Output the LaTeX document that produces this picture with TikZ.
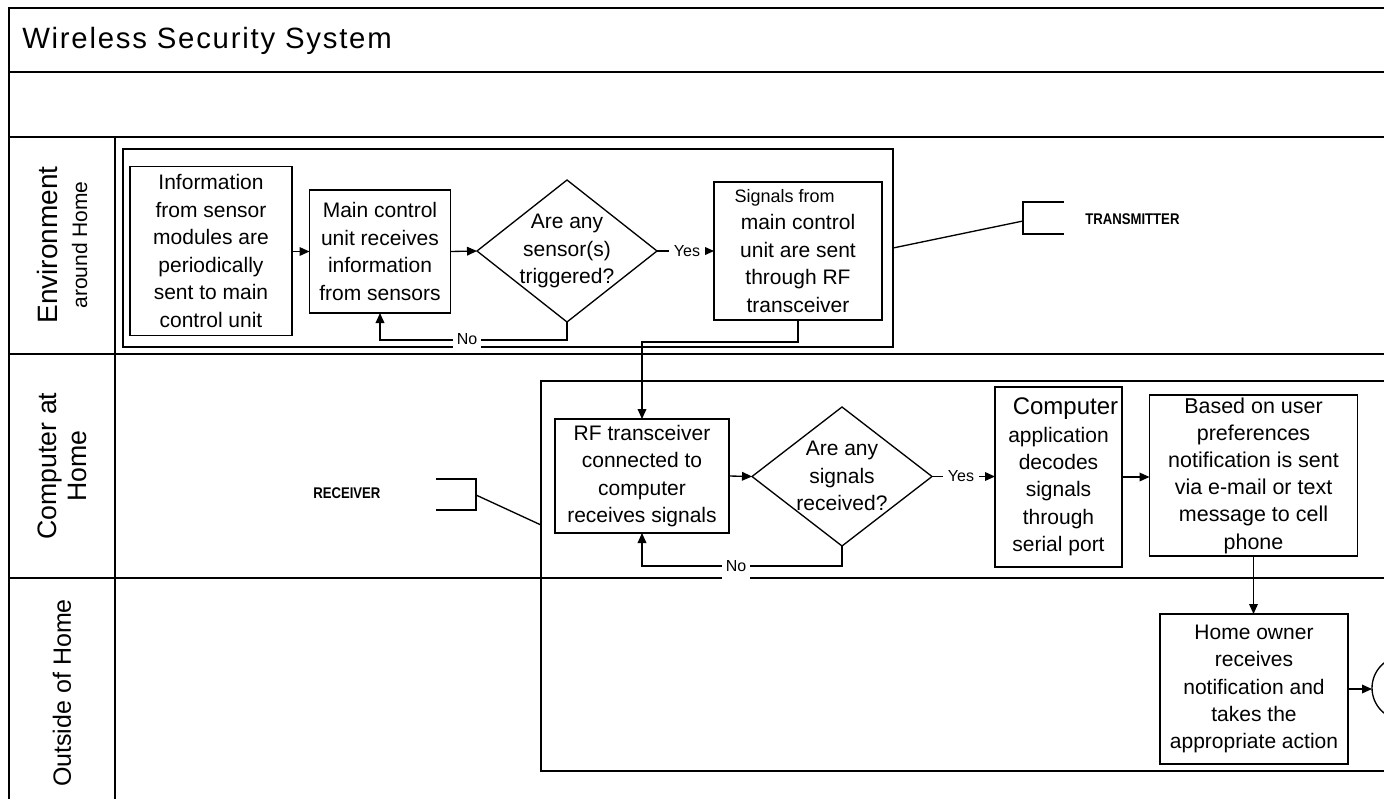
\documentclass[tikz,border=0pt]{standalone}
\usepackage{fontspec}
\setmainfont{Liberation Sans}
\newfontfamily\titlefamily[LetterSpace=6]{Liberation Sans}
\usetikzlibrary{arrows.meta,shapes.geometric}

\tikzset{
  rule/.style={line width=1.1pt},
  plain/.style={line width=1pt},
  procbox/.style 2 args={draw, rectangle, line width=1pt, inner sep=0pt, outer sep=0pt,
    align=center, minimum width=#1*0.75pt, minimum height=#2*0.75pt,
    font=\fontsize{15.75pt}{20.6pt}\selectfont},
  decision/.style 2 args={draw, diamond, line width=1pt, inner sep=0pt, outer sep=0pt,
    minimum width=#1*0.75pt, minimum height=#2*0.75pt},
  boxtext/.style={align=center, inner sep=0pt, font=\fontsize{15.75pt}{20.6pt}\selectfont},
  flow/.style={line width=1pt, -{Triangle[length=7.5pt,width=6.5pt]}},
  branch/.style={fill=white, inner ysep=1pt, inner xsep=4pt, font=\fontsize{12pt}{13pt}\selectfont},
  loopback/.style={fill=white, inner xsep=2.5pt, inner ysep=0pt, minimum height=20.25pt,
    font=\fontsize{12pt}{13pt}\selectfont},
  lanename/.style={rotate=90, align=center, inner sep=0pt},
  tag/.style={anchor=west, inner sep=0pt, font=\bfseries\fontsize{11.6pt}{12pt}\selectfont},
}

\begin{document}
\begin{tikzpicture}[x=0.75pt,y=-0.75pt]
\useasboundingbox (0,0) rectangle (1384,799);
\clip (0,0) rectangle (1384,799);
\fill[white] (0,0) rectangle (1384,799);

% pool frame, header rows and lanes
\draw[rule] (9,805) -- (9,8) -- (1400,8);
\draw[rule] (9,72) -- (1400,72);
\draw[rule] (9,137) -- (1400,137);
\draw[rule] (9,354) -- (1400,354);
\draw[rule] (9,578) -- (1400,578);
\draw[rule] (115,137) -- (115,805);

\node[anchor=base west, inner sep=0pt, font=\titlefamily\fontsize{22pt}{24pt}\selectfont]
  (title) at (22,49) {Wireless Security System};

\node[lanename, font=\fontsize{21pt}{22.5pt}\selectfont] (lane1) at (62,245)
  {Environment\\{\fontsize{15.75pt}{22.5pt}\selectfont around Home}};
\node[lanename, font=\fontsize{20pt}{22.5pt}\selectfont] (lane2) at (62,466)
  {Computer at\\Home};
\node[lanename, font=\fontsize{18.75pt}{22.5pt}\selectfont] (lane3) at (62,693)
  {Outside of Home};

% groups
\draw[plain] (123,149) rectangle (893,347);
\draw[plain] (541,381) rectangle (1400,771);

% transmitter annotation
\coordinate (g1e) at (893,248);
\coordinate (txb) at (1023,221);
\draw[plain] (1064,202) -- (1023,202) -- (1023,234) -- (1064,234);
\draw[plain] (g1e) -- (txb);
\node[tag] (txlbl) at (1085,219) {\scalebox{0.85}[1]{TRANSMITTER}};

% receiver annotation
\coordinate (rxb) at (476,495);
\coordinate (g2w) at (541,525);
\draw[plain] (436,479) -- (476,479) -- (476,510) -- (436,510);
\draw[plain] (rxb) -- (g2w);
\node[tag] (rxlbl) at (313,493) {\scalebox{0.85}[1]{RECEIVER}};

% activities and decisions
\node[procbox={162}{169}] (b1) at (211,251)
  {Information\\from sensor\\modules are\\periodically\\sent to main\\control unit};
\node[procbox={141}{123}] (b2) at (380,251.5)
  {Main control\\unit receives\\information\\from sensors};
\node[decision={180}{142}] (d1) at (567,251) {};
\node[boxtext] (d1t) at (567,251) {Are any\\sensor(s)\\triggered?};
\node[procbox={168}{138}] (b3) at (798,251)
  {{\fontsize{13.5pt}{20.6pt}\selectfont Signals from}\hspace*{20pt}\\main control\\unit are sent\\through RF\\transceiver};

\node[procbox={174}{114}] (rf) at (642,476)
  {RF transceiver\\connected to\\computer\\receives signals};
\node[decision={180}{139}] (d2) at (842,476.5) {};
\node[boxtext] (d2t) at (842,476) {Are any\\signals\\received?};
\node[procbox={127}{180}] (comp) at (1058.5,477)
  {\hspace*{10.5pt}{\fontsize{18pt}{20.6pt}\selectfont Computer}\\application\\decodes\\signals\\through\\serial port};
\node[procbox={208}{161}, font=\fontsize{16.1pt}{20.4pt}\selectfont] (based) at (1253.5,475.5)
  {Based on user\\preferences\\notification is sent\\via e-mail or text\\message to cell\\phone};
\node[procbox={188}{150}] (home) at (1254,689)
  {Home owner\\receives\\notification and\\takes the\\appropriate action};
\node[draw, circle, line width=1pt, minimum size=48pt, inner sep=0pt, outer sep=0pt] (done) at (1404,688) {};

% sequence flows
\draw[flow] (b1.east |- b2.west) -- (b2.west);
\draw[flow] (b2.east) -- (d1.west);
\draw[flow] (d1.east) -- (b3.west);
\draw[flow] (d1.south) -- ++(0,18) -| (b2.south);
\draw[flow] (b3.south) -- ++(0,22) -| (rf.north);
\draw[flow] (rf.east) -- (d2.west);
\draw[flow] (d2.east) -- (comp.west |- d2.east);
\draw[flow] (d2.south) -- ++(0,20) -| (rf.south);
\draw[flow] (comp.east) -- (based.west |- comp.east);
\draw[flow] (based.south) -- (home.north -| based.south);
\draw[flow] (home.east) -- (done.west |- home.east);

% branch labels
\node[branch] (yes1) at (687,251) {Yes};
\node[branch] (yes2) at (961,476.5) {Yes};
\node[loopback] (no1) at (467,339) {No};
\node[loopback] (no2) at (736,566.5) {No};
\end{tikzpicture}
\end{document}
